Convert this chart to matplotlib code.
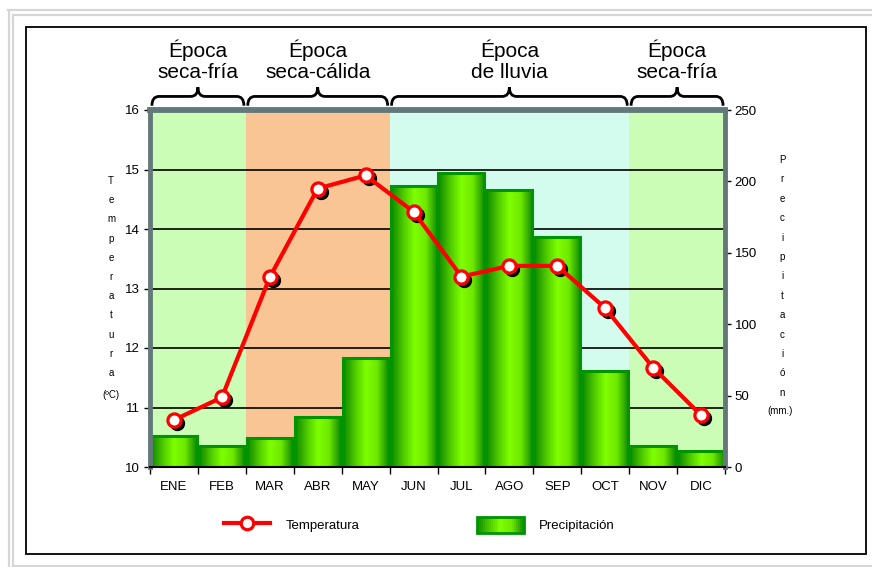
import numpy as np
import matplotlib
matplotlib.use("Agg")
import matplotlib.pyplot as plt
from matplotlib.colors import LinearSegmentedColormap
from matplotlib.lines import Line2D
from matplotlib.patches import Patch, Rectangle, PathPatch
from matplotlib.path import Path
from matplotlib.transforms import offset_copy, blended_transform_factory
from matplotlib.legend_handler import HandlerBase

plt.rcParams['font.family'] = ['Liberation Sans', 'DejaVu Sans']

# datos
meses = ['ENE', 'FEB', 'MAR', 'ABR', 'MAY', 'JUN', 'JUL', 'AGO', 'SEP', 'OCT', 'NOV', 'DIC']
temperatura = [10.79, 11.17, 13.19, 14.68, 14.90, 14.29, 13.20, 13.38, 13.38, 12.67, 11.67, 10.87]
precipitacion = [22, 15, 20, 35, 76, 197, 206, 194, 161, 67, 15, 11]
epocas = ['Época\nseca-fría', 'Época\nseca-cálida', 'Época\nde lluvia', 'Época\nseca-fría']
epoca_inicio = [0, 2, 5, 10]
epoca_fin = [1, 4, 9, 11]
epoca_color = ['#ccfdb6', '#f9c594', '#d3fcef', '#ccfdb6']
temp_ticks = [10, 11, 12, 13, 14, 15, 16]
prec_ticks = [0, 50, 100, 150, 200, 250]

W, H = 872, 567
fig = plt.figure(figsize=(W / 100, H / 100), dpi=100)

def fx(x):
    return x / W

def fy(y):
    return 1 - y / H

rect = [fx(150), fy(467), fx(725) - fx(150), fy(110) - fy(467)]
x = np.arange(len(meses))
cmap = LinearSegmentedColormap.from_list('verde', ['#0f8a00', '#4cc800', '#80ff00', '#6ee800', '#0f8a00'])

# temperatura: fondos y rejilla
ax_t = fig.add_axes(rect)
ax_t.set_axisbelow(True)
for a, b, c in zip(epoca_inicio, epoca_fin, epoca_color):
    ax_t.axvspan(a - 0.5, b + 0.5, color=c, lw=0, zorder=0.2)
ax_t.set_xlim(-0.5, len(meses) - 0.5)
ax_t.set_ylim(10, 16)
ax_t.set_yticks(temp_ticks)
ax_t.grid(axis='y', color='black', lw=1.2)
ax_t.tick_params(axis='y', labelsize=9.5, length=4, width=1, pad=3)
for s in ax_t.spines.values():
    s.set_visible(False)
ax_t.set_xticks(x)
ax_t.set_xticklabels(meses)
ax_t.set_xticks(np.arange(-0.5, len(meses)), minor=True)
ax_t.tick_params(axis='x', which='major', length=0, labelsize=9.5, pad=10)
ax_t.tick_params(axis='x', which='minor', length=5, width=1)

# precipitación: barras con degradado
ax_p = ax_t.twinx()
grad = np.linspace(0, 1, 64).reshape(1, -1)
w = 0.96
for i, p in zip(x, precipitacion):
    ax_p.imshow(grad, cmap=cmap, extent=(i - w / 2, i + w / 2, 0, p), aspect='auto',
                interpolation='bilinear', zorder=1)
ax_p.bar(x, precipitacion, width=w, facecolor='none', edgecolor='#009400', lw=2.2, zorder=2)
ax_p.set_xlim(-0.5, len(meses) - 0.5)
ax_p.set_ylim(0, 250)
ax_p.set_yticks(prec_ticks)
ax_p.tick_params(axis='y', labelsize=9.5, length=4, width=1, pad=3)
gris = '#637979'
ax_p.spines['top'].set_color(gris)
ax_p.spines['top'].set_linewidth(4.2)
ax_p.spines['left'].set_color(gris)
ax_p.spines['left'].set_linewidth(3.5)
ax_p.spines['right'].set_color(gris)
ax_p.spines['right'].set_linewidth(3.5)
ax_p.spines['bottom'].set_color('black')
ax_p.spines['bottom'].set_linewidth(1.5)

# línea de temperatura
ax_l = fig.add_axes(rect, sharex=ax_t, sharey=ax_t)
ax_l.axis('off')
sombra = offset_copy(ax_l.transData, fig=fig, x=3, y=-3, units='dots')
ax_l.plot(x, temperatura, 'o', color='black', ms=10, transform=sombra, zorder=2)
ax_l.plot(x, temperatura, '-', color='#ff0000', lw=3, zorder=3)
ax_l.plot(x, temperatura, 'o', mfc='white', mec='#ff0000', mew=2.3, ms=9.5, zorder=4)

# llaves y épocas
tr = blended_transform_factory(ax_t.transData, ax_t.transAxes)
g, d = 0.04, 0.15
yb, yh, yp = 1.012, 1.038, 1.064
for lab, a, b in zip(epocas, epoca_inicio, epoca_fin):
    x0, x1 = a - 0.5 + g, b + 0.5 - g
    m = (x0 + x1) / 2
    verts = [(x0, yb), (x0, yh), (x0 + d, yh), (m - d, yh), (m, yh), (m, yp),
             (m, yh), (m + d, yh), (x1 - d, yh), (x1, yh), (x1, yb)]
    codes = [Path.MOVETO, Path.CURVE3, Path.CURVE3, Path.LINETO, Path.CURVE3, Path.CURVE3,
             Path.CURVE3, Path.CURVE3, Path.LINETO, Path.CURVE3, Path.CURVE3]
    ax_t.add_patch(PathPatch(Path(verts, codes), transform=tr, fill=False, lw=2,
                             edgecolor='black', clip_on=False))
    ax_t.text(m, 1.078, lab, transform=tr, ha='center', va='bottom', fontsize=15,
              linespacing=1.15)

# títulos de ejes en vertical
for k, ch in enumerate('Temperatura'):
    fig.text(fx(111), fy(181 + k * 19.2), ch, ha='center', va='center', fontsize=7)
fig.text(fx(111), fy(395), '(ºC)', ha='center', va='center', fontsize=7)
for k, ch in enumerate('Precipitación'):
    fig.text(fx(782), fy(160 + k * 19.4), ch, ha='center', va='center', fontsize=7)
fig.text(fx(780), fy(411), '(mm.)', ha='center', va='center', fontsize=7)


# leyenda
class HandlerDegradado(HandlerBase):
    def create_artists(self, legend, orig_handle, xdescent, ydescent, width, height,
                       fontsize, trans):
        n = 24
        arts = []
        for k in range(n):
            arts.append(Rectangle((-xdescent + width * k / n, -ydescent), width / n + 0.3, height,
                                  facecolor=cmap((k + 0.5) / n), lw=0, transform=trans))
        arts.append(Rectangle((-xdescent, -ydescent), width, height, fill=False,
                              edgecolor='#009400', lw=2, transform=trans))
        return arts


h_temp = Line2D([], [], color='#ff0000', lw=3, marker='o', mfc='white', mec='#ff0000',
                mew=2.3, ms=9)
h_prec = Patch(facecolor='#5ed800', edgecolor='#009400', lw=2)
fig.legend([h_temp, h_prec], ['Temperatura', 'Precipitación'], ncol=2, loc='center left',
           bbox_to_anchor=(fx(224), fy(525)), frameon=False, fontsize=9.5,
           handlelength=3.5, handleheight=1.6, handletextpad=1.2, columnspacing=8.9,
           borderpad=0, borderaxespad=0, handler_map={Patch: HandlerDegradado()})

# marcos
fig.add_artist(Rectangle((fx(26), fy(554)), fx(866) - fx(26), fy(27) - fy(554),
                         transform=fig.transFigure, fill=False, edgecolor='black', lw=1.3))
for xs, ys in [([8, 872], [10, 10]), ([13, 872], [15, 15]),
               ([9, 9], [10, 567]), ([13, 13], [15, 567]), ([13, 872], [566, 566])]:
    fig.add_artist(Line2D([fx(v) for v in xs], [fy(v) for v in ys], transform=fig.transFigure,
                          color='#d6d6d6', lw=1.6))

fig.savefig('out.png', dpi=100)
